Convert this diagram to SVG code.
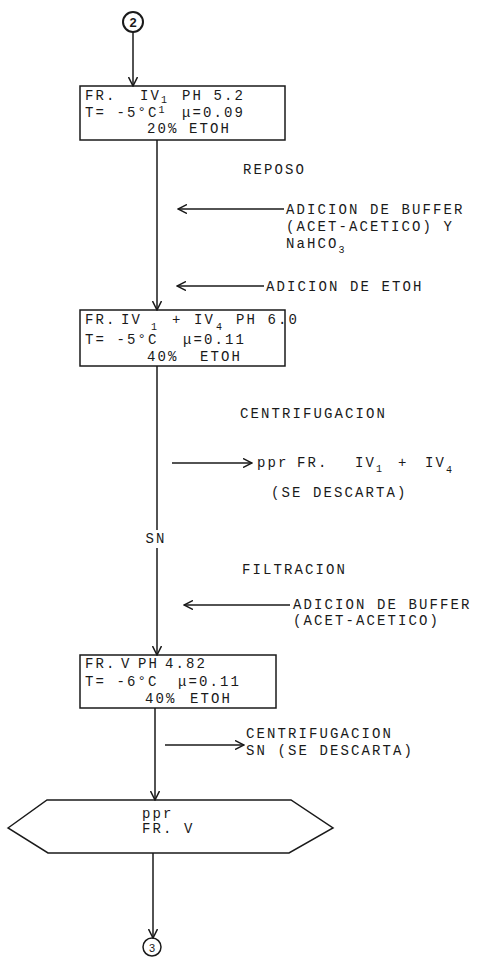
<svg xmlns="http://www.w3.org/2000/svg" width="496" height="960" viewBox="0 0 496 960">
<defs>
<style>
.t{font-family:"Liberation Mono","DejaVu Sans Mono",monospace;font-size:14px;letter-spacing:2.1px;fill:#1a1a1a}
.s{font-family:"Liberation Mono","DejaVu Sans Mono",monospace;font-size:10px;fill:#1a1a1a}
.c{font-family:"Liberation Sans",Arial,sans-serif;font-size:13px;fill:#1a1a1a;text-anchor:middle}
.box{fill:none;stroke:#1a1a1a;stroke-width:1.5}
.ln{fill:none;stroke:#1a1a1a;stroke-width:1.5}
</style>
<marker id="ah" markerWidth="10" markerHeight="10" refX="9" refY="5" orient="auto" markerUnits="userSpaceOnUse">
<path d="M0,0.5 L9,5 L0,9.5" fill="none" stroke="#1a1a1a" stroke-width="1.5"/>
</marker>
</defs>
<rect width="496" height="960" fill="#fff"/>

<g id="connectors">
<line class="ln" x1="133" y1="32" x2="133" y2="86" marker-end="url(#ah)"/>
<line class="ln" x1="157" y1="140" x2="157" y2="310" marker-end="url(#ah)"/>
<line class="ln" x1="284" y1="209" x2="178" y2="209" marker-end="url(#ah)"/>
<line class="ln" x1="264" y1="286" x2="177" y2="286" marker-end="url(#ah)"/>
<line class="ln" x1="157" y1="366" x2="157" y2="530"/>
<line class="ln" x1="172" y1="463" x2="252" y2="463" marker-end="url(#ah)"/>
<line class="ln" x1="157" y1="548" x2="157" y2="655" marker-end="url(#ah)"/>
<line class="ln" x1="290" y1="605" x2="184" y2="605" marker-end="url(#ah)"/>
<line class="ln" x1="155" y1="708" x2="155" y2="800" marker-end="url(#ah)"/>
<line class="ln" x1="165" y1="745" x2="244" y2="745" marker-end="url(#ah)"/>
<line class="ln" x1="153" y1="853" x2="153" y2="938" marker-end="url(#ah)"/>
</g>

<g id="c2">
<circle cx="133" cy="22" r="10" fill="none" stroke="#1a1a1a" stroke-width="2"/>
<text class="c" x="133" y="27" style="font-weight:bold">2</text>
</g>

<g id="box1">
<rect class="box" x="80" y="86" width="205" height="54"/>
<text class="t" x="85" y="100">FR.</text>
<text class="t" x="140" y="100">IV<tspan class="s" dy="3">1</tspan></text>
<text class="t" x="182" y="100">PH 5.2</text>
<text class="t" x="85" y="117">T= -5°C<tspan class="s" dy="-4">1</tspan></text>
<text class="t" x="182" y="117">μ=0.09</text>
<text class="t" x="147" y="133">20% ETOH</text>
</g>

<g id="reposo"><text class="t" x="243" y="174">REPOSO</text></g>

<g id="buffer1">
<text class="t" x="286" y="214">ADICION DE BUFFER</text>
<text class="t" x="286" y="231">(ACET-ACETICO)  Y</text>
<text class="t" x="286" y="248">NaHCO<tspan class="s" dy="5">3</tspan></text>
</g>

<g id="etoh"><text class="t" x="266" y="291">ADICION DE ETOH</text></g>

<g id="box2">
<rect class="box" x="80" y="310" width="205" height="56"/>
<text class="t" x="85" y="324">FR.</text>
<text class="t" x="121" y="324">IV</text>
<text class="s" x="151" y="330">1</text>
<text class="t" x="172" y="324">+</text>
<text class="t" x="194" y="324">IV</text>
<text class="s" x="216" y="330">4</text>
<text class="t" x="236" y="324">PH 6.0</text>
<text class="t" x="85" y="344">T= -5°C</text>
<text class="t" x="183" y="344">μ=0.11</text>
<text class="t" x="147" y="361">40%</text>
<text class="t" x="200" y="361">ETOH</text>
</g>

<g id="centrif1"><text class="t" x="240" y="418">CENTRIFUGACION</text></g>

<g id="ppr1">
<text class="t" x="257" y="467">ppr</text>
<text class="t" x="297" y="467">FR.</text>
<text class="t" x="355" y="467">IV<tspan class="s" dy="5">1</tspan></text>
<text class="t" x="398" y="467">+</text>
<text class="t" x="425" y="467">IV<tspan class="s" dy="6">4</tspan></text>
<text class="t" x="271" y="497">(SE DESCARTA)</text>
</g>

<g id="sn"><text class="t" x="156" y="543" text-anchor="middle">SN</text></g>

<g id="filtr"><text class="t" x="242" y="574">FILTRACION</text></g>

<g id="buffer2">
<text class="t" x="293" y="609">ADICION DE BUFFER</text>
<text class="t" x="293" y="625">(ACET-ACETICO)</text>
</g>

<g id="box3">
<rect class="box" x="80" y="655" width="196" height="53"/>
<text class="t" x="85" y="668">FR.</text>
<text class="t" x="121" y="668">V</text>
<text class="t" x="138" y="668">PH</text>
<text class="t" x="165" y="668">4.82</text>
<text class="t" x="85" y="686">T= -6°C</text>
<text class="t" x="178" y="686">μ=0.11</text>
<text class="t" x="145" y="703">40%</text>
<text class="t" x="190" y="703">ETOH</text>
</g>

<g id="centrif2">
<text class="t" x="246" y="738">CENTRIFUGACION</text>
<text class="t" x="246" y="755">SN (SE DESCARTA)</text>
</g>

<g id="hex">
<polygon class="box" points="8,828 47,800 291,800 333,828 289,853 48,853"/>
<text class="t" x="142" y="818">ppr</text>
<text class="t" x="142" y="833">FR. V</text>
</g>

<g id="c3">
<circle cx="152" cy="947" r="9" fill="none" stroke="#1a1a1a" stroke-width="1.5"/>
<text class="c" x="152" y="951.5" style="font-size:11px">3</text>
</g>
</svg>
